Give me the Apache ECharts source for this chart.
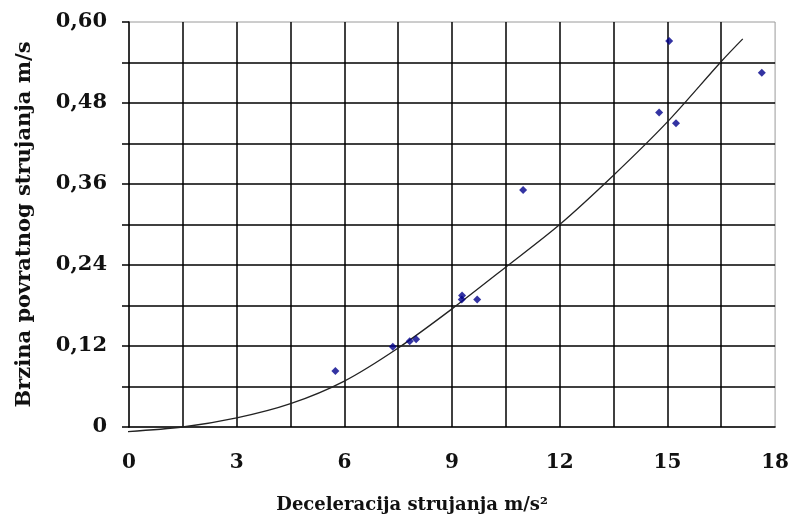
<!DOCTYPE html>
<html>
<head>
<meta charset="utf-8">
<script src="https://cdn.jsdelivr.net/npm/echarts@6/dist/echarts.min.js"></script>
<style>html,body{margin:0;padding:0;background:#fff;}#c{width:792px;height:523px;}</style>
</head>
<body>
<div id="c"></div>
<script>
// Measured points (deceleration m/s^2, velocity m/s)
const pointX = [5.75, 7.35, 7.82, 8.0, 9.27, 9.28, 9.70, 10.98, 14.77, 15.05, 15.24, 17.63];
const pointY = [0.083, 0.119, 0.127, 0.130, 0.189, 0.195, 0.189, 0.351, 0.466, 0.572, 0.450, 0.525];
// Trend curve
const trendX = [-0.2, 1.5, 3.0, 4.5, 6.0, 7.5, 9.0, 10.5, 12.0, 13.5, 15.0, 16.5, 17.1];
const trendY = [-0.0074, 0.0, 0.0134, 0.0345, 0.068, 0.117, 0.175, 0.237, 0.300, 0.373, 0.452, 0.5415, 0.575];
// Tick labels
const xTickLabels = ['0','','3','','6','','9','','12','','15','','18'];
const yTickLabels = ['0','','0,12','','0,24','','0,36','','0,48','','0,60'];
const xTitle = 'Deceleracija strujanja m/s\u00B2';
const yTitle = 'Brzina povratnog strujanja m/s';

const font = 'DejaVu Serif';
const chart = echarts.init(document.getElementById('c'), null, {renderer: 'canvas'});
chart.setOption({
  animation: false,
  backgroundColor: '#fff',
  grid: {left: 129, right: 16, top: 22, bottom: 96, show: true, borderColor: '#9a9a9a', borderWidth: 1, containLabel: false},
  xAxis: {
    type: 'value', min: 0, max: 18, interval: 1.5,
    name: xTitle, nameLocation: 'middle', nameGap: 69,
    nameTextStyle: {fontFamily: font, fontWeight: 'bold', fontSize: 18, color: '#111', padding: [0, 80, 0, 0]},
    axisLine: {show: true, lineStyle: {color: '#000', width: 1.5}},
    axisTick: {show: false},
    axisLabel: {
      fontFamily: font, fontWeight: 'bold', fontSize: 20, color: '#111', margin: 26,
      formatter: function (v) { return xTickLabels[Math.round(v / 1.5)] || ''; }
    },
    splitLine: {show: true, showMinLine: false, showMaxLine: false, lineStyle: {color: '#000', width: 1.5}}
  },
  yAxis: {
    type: 'value', min: 0, max: 0.6, interval: 0.06,
    name: yTitle, nameLocation: 'middle', nameGap: 94, nameRotate: 90,
    nameTextStyle: {fontFamily: font, fontWeight: 'bold', fontSize: 21, color: '#111'},
    axisLine: {show: true, lineStyle: {color: '#000', width: 1.5}},
    axisTick: {show: true, inside: false, length: 7, lineStyle: {color: '#000', width: 1.5}},
    axisLabel: {
      fontFamily: font, fontWeight: 'bold', fontSize: 21, color: '#111', margin: 22,
      formatter: function (v) { return yTickLabels[Math.round(v / 0.06)] || ''; }
    },
    splitLine: {show: true, showMinLine: false, showMaxLine: false, lineStyle: {color: '#000', width: 1.5}}
  },
  series: [
    {
      type: 'line', data: trendX.map((x, i) => [x, trendY[i]]),
      smooth: 0.3, showSymbol: false, clip: false, silent: true,
      lineStyle: {color: '#222', width: 1.3}, z: 3
    },
    {
      type: 'scatter', data: pointX.map((x, i) => [x, pointY[i]]),
      symbol: 'diamond', symbolSize: 8,
      itemStyle: {color: '#00008B'}, z: 4
    }
  ]
});
</script>
</body>
</html>
